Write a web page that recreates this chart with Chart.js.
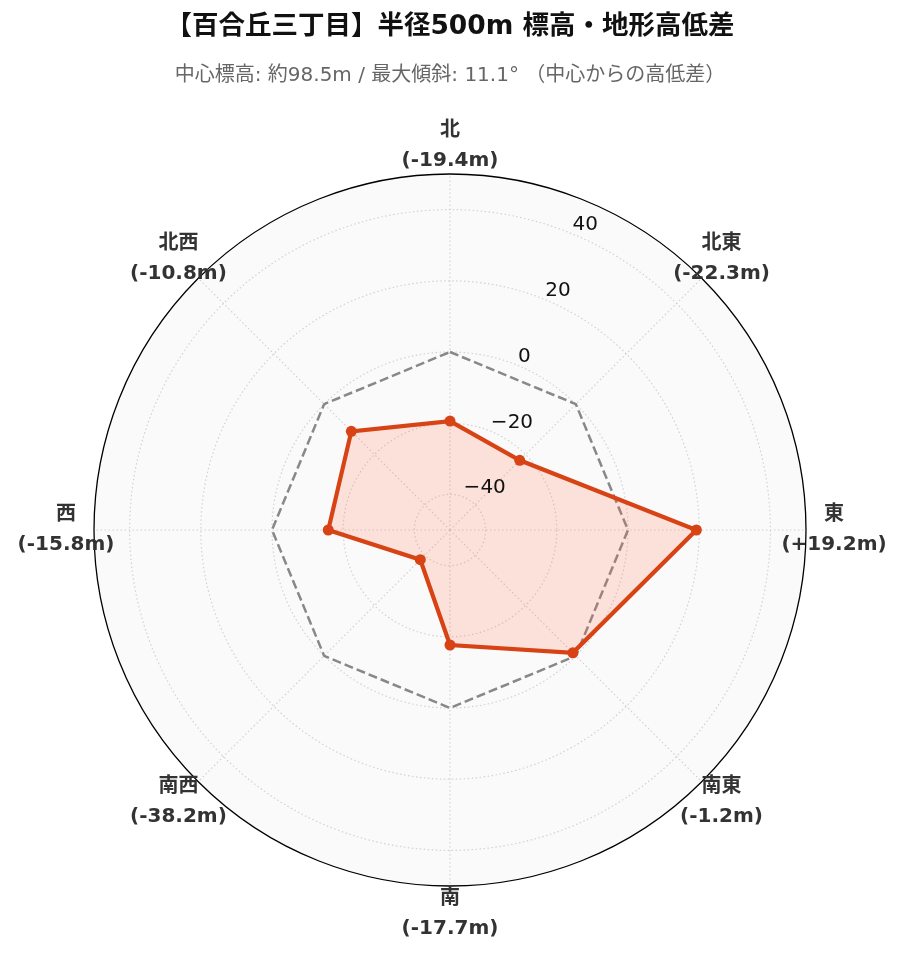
<!DOCTYPE html>
<html lang="ja">
<head>
<meta charset="utf-8">
<title>百合丘三丁目 標高・地形高低差</title>
<script src="https://cdn.jsdelivr.net/npm/chart.js@4.4.1/dist/chart.umd.min.js"></script>
<style>
    html, body { margin: 0; padding: 0; background: #ffffff; }
    #wrap { position: relative; width: 903px; height: 962px; }
</style>
</head>
<body>
<div id="wrap"><canvas id="elevationChart"></canvas></div>
<script>
// Chart data
const directions = ['北', '北東', '東', '南東', '南', '南西', '西', '北西'];
const elevationDiff = [-19.4, -22.3, 19.2, -1.2, -17.7, -38.2, -15.8, -10.8];
const baseline = [0, 0, 0, 0, 0, 0, 0, 0];
const radialTicks = [-40, -20, 0, 20, 40];
const radialMin = -50;
const radialMax = 50;

const titleText = '【百合丘三丁目】半径500m 標高・地形高低差';
const subtitleText = '中心標高: 約98.5m / 最大傾斜: 11.1° （中心からの高低差）';

document.addEventListener('DOMContentLoaded', function () {
    const fontFamily = '"DejaVu Sans", "Noto Sans CJK JP", sans-serif';
    Chart.defaults.font.family = fontFamily;

    const formatDiff = v => '(' + (v > 0 ? '+' : '') + v.toFixed(1) + 'm)';
    const formatTick = v => String(v).replace('-', '\u2212');

    // Direction labels and radial tick labels, placed like a polar axis
    const polarLabels = {
        id: 'polarLabels',
        afterDatasetsDraw(chart) {
            const scale = chart.scales.r;
            const ctx = chart.ctx;
            ctx.save();

            ctx.font = 'bold 20px ' + fontFamily;
            ctx.fillStyle = '#333333';
            ctx.textAlign = 'center';
            ctx.textBaseline = 'middle';
            directions.forEach((name, i) => {
                const p = scale.getPointPosition(i, scale.drawingArea + 28);
                ctx.fillText(name, p.x, p.y - 15);
                ctx.fillText(formatDiff(elevationDiff[i]), p.x, p.y + 15);
            });

            // tick labels sit 22.5° clockwise from north
            const angle = Math.PI / 8;
            ctx.font = '20px ' + fontFamily;
            ctx.fillStyle = '#111111';
            ctx.textAlign = 'left';
            radialTicks.forEach(v => {
                const d = scale.getDistanceFromCenterForValue(v);
                const x = scale.xCenter + Math.sin(angle) * d;
                const y = scale.yCenter - Math.cos(angle) * d;
                ctx.fillText(formatTick(v), x, y - 9);
            });
            ctx.restore();
        }
    };

    // Chart.js Initialization
    const ctx = document.getElementById('elevationChart');
    new Chart(ctx, {
        type: 'radar',
        data: {
            labels: directions,
            datasets: [{
                label: '高低差',
                data: elevationDiff,
                borderColor: '#d84315',
                backgroundColor: 'rgba(255, 112, 67, 0.18)',
                fill: 'start',
                borderWidth: 4.2,
                pointRadius: 5.5,
                pointBackgroundColor: '#d84315',
                pointBorderColor: '#d84315',
                pointBorderWidth: 0,
                tension: 0
            }, {
                label: '中心標高',
                data: baseline,
                borderColor: '#888888',
                borderWidth: 2.5,
                borderDash: [9, 4],
                fill: false,
                pointRadius: 0,
                tension: 0
            }]
        },
        options: {
            responsive: true,
            maintainAspectRatio: false,
            animation: false,
            devicePixelRatio: 1,
            layout: {
                padding: { left: 93, right: 96, top: 0, bottom: 75 }
            },
            plugins: {
                legend: { display: false },
                tooltip: { enabled: false },
                title: {
                    display: true,
                    text: titleText,
                    color: '#111111',
                    font: { size: 26.5, weight: 'bold', lineHeight: 1.2 },
                    padding: { top: 11, bottom: 0 }
                },
                subtitle: {
                    display: true,
                    text: subtitleText,
                    color: '#666666',
                    font: { size: 20, weight: 'normal', lineHeight: 1.2 },
                    padding: { top: 21, bottom: 86 }
                }
            },
            scales: {
                r: {
                    min: radialMin,
                    max: radialMax,
                    afterBuildTicks: (scale) => {
                        scale.ticks = radialTicks.concat([radialMax]).map(v => ({ value: v }));
                    },
                    backgroundColor: '#fafafa',
                    ticks: { display: false },
                    pointLabels: { display: false },
                    grid: {
                        circular: true,
                        color: c => (c.tick && c.tick.value === radialMax) ? '#000000' : '#d2d2d2',
                        lineWidth: c => (c.tick && c.tick.value === radialMax) ? 1.3 : 1.2
                    },
                    border: {
                        dash: c => (c.tick && c.tick.value === radialMax) ? [] : [1.5, 2.5]
                    },
                    angleLines: {
                        color: '#d2d2d2',
                        lineWidth: 1.2,
                        borderDash: [1.5, 2.5]
                    }
                }
            }
        },
        plugins: [polarLabels]
    });
});
</script>
</body>
</html>
